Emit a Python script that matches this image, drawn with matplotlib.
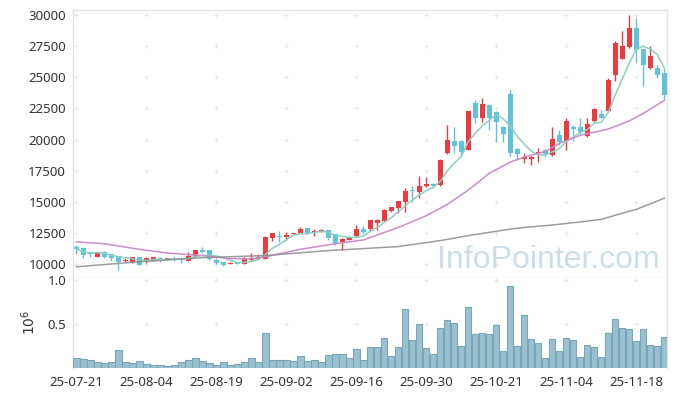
import numpy as np
import pandas as pd
import matplotlib
matplotlib.use('Agg')
import matplotlib.pyplot as plt

# daily prices, 85 trading days from 25-07-21
opens = [11400, 11320, 10880, 10620, 11010, 10800, 10670, 10270, 10160, 10560,
         10270, 10290, 10530, 10350, 10480, 10480, 10290, 10610, 11150, 11150,
         10345, 10180, 10060, 10180, 10030, 10350, 10450, 10450, 12130, 12250,
         12220, 12430, 12480, 12880, 12560, 12620, 12750, 12400, 11760, 11980,
         12270, 12800, 12800, 13340, 13500, 14260, 14550, 15030, 15960, 15770,
         16280, 16420, 16330, 18900, 19890, 19890, 19200, 22960, 21760, 22780,
         22250, 21040, 23660, 19250, 18460, 18410, 18900, 19170, 18770, 20380,
         19900, 21030, 21030, 20320, 21470, 22060, 22330, 25210, 26500, 27400,
         28960, 27280, 25750, 25750, 25350]
highs = [11550, 11350, 11000, 10980, 11050, 10820, 10700, 10480, 10600, 10600,
         10560, 10620, 10600, 10480, 10700, 10480, 10960, 11170, 11350, 11170,
         10480, 10200, 10150, 10200, 10560, 10900, 10800, 12250, 12500, 12700,
         12620, 12520, 12960, 12900, 12830, 12800, 12780, 12420, 12080, 12300,
         13140, 13050, 13560, 13600, 14450, 14600, 15100, 16100, 16280, 17060,
         16980, 16520, 18420, 21150, 20990, 19950, 22330, 23160, 23330, 22850,
         22300, 21100, 23980, 19300, 18960, 18650, 19310, 19250, 21000, 20800,
         21740, 21200, 21700, 21740, 22540, 22350, 24950, 27900, 28690, 30030,
         29760, 27300, 27490, 26020, 25750]
lows = [10850, 10470, 10550, 10600, 10480, 10265, 9540, 10210, 10120, 9950,
        10100, 10270, 10210, 10320, 10290, 10080, 10250, 10580, 10930, 10350,
        10050, 9870, 10030, 10000, 10000, 10300, 10400, 10430, 11900, 11820,
        11950, 12430, 12450, 12400, 12300, 12600, 11950, 11580, 11150, 11950,
        12220, 12400, 12700, 12750, 13360, 14220, 14120, 14160, 15030, 15290,
        16200, 16150, 16300, 18880, 18900, 18800, 19150, 21300, 21440, 20800,
        19840, 19850, 18700, 18380, 18100, 18000, 18230, 18640, 18700, 19570,
        19200, 19870, 20400, 20200, 21400, 21700, 22300, 24680, 26450, 27350,
        26150, 24280, 25700, 24950, 23200]
closes = [11250, 10720, 10800, 10950, 10610, 10530, 10160, 10370, 10560, 9980,
          10480, 10580, 10320, 10480, 10400, 10390, 10670, 11150, 10960, 10420,
          10130, 9960, 10100, 10040, 10530, 10530, 10610, 12190, 12480, 12150,
          12350, 12480, 12830, 12440, 12700, 12750, 12130, 11620, 12030, 12220,
          12800, 12620, 13530, 13550, 14360, 14580, 15080, 15880, 15880, 16310,
          16440, 16310, 18360, 19970, 19520, 19040, 22300, 21760, 22880, 21760,
          21440, 20430, 18900, 18820, 18610, 18610, 18980, 18830, 20050, 19840,
          21470, 20830, 20640, 21250, 22460, 21740, 24810, 27750, 27490, 28960,
          27220, 26020, 26690, 25210, 23610]
volumes = [104000, 92000, 81000, 58000, 46000, 58000, 196000, 58000, 46000, 69000,
           35000, 23000, 23000, 12000, 23000, 58000, 81000, 104000, 69000, 46000,
           23000, 58000, 23000, 35000, 58000, 104000, 58000, 392000, 81000, 81000,
           81000, 69000, 127000, 69000, 81000, 58000, 138000, 150000, 150000, 104000,
           208000, 85000, 231000, 231000, 335000, 127000, 231000, 669000, 312000, 496000,
           219000, 150000, 450000, 542000, 512000, 242000, 692000, 381000, 396000, 381000,
           485000, 185000, 935000, 242000, 600000, 323000, 277000, 104000, 323000, 185000,
           335000, 312000, 115000, 254000, 231000, 115000, 396000, 554000, 450000, 438000,
           300000, 438000, 254000, 242000, 346000]

# moving averages (index, value)
ma20_idx = [0, 4, 9, 13, 18, 22, 25, 27, 32, 37, 41, 46, 50, 53, 56, 59, 62, 64,
            67, 69, 72, 76, 79, 81, 84]
ma20_val = [11800, 11650, 11200, 10900, 10700, 10450, 10450, 10600, 11200, 11650,
            11950, 12950, 13900, 14800, 15950, 17300, 18200, 18600, 19050, 19700,
            20350, 20850, 21500, 22100, 23150]
ma60_idx = [0, 9, 18, 27, 36, 46, 52, 56, 60, 63, 68, 72, 75, 78, 80, 84]
ma60_val = [9800, 10200, 10530, 10700, 11100, 11420, 11900, 12300, 12650, 12900,
            13150, 13400, 13600, 14100, 14400, 15300]

tick_labels = ['25-07-21', '25-08-04', '25-08-19', '25-09-02', '25-09-16',
               '25-09-30', '25-10-21', '25-11-04', '25-11-18']

df = pd.DataFrame({'open': opens, 'high': highs, 'low': lows,
                   'close': closes, 'volume': volumes})
df['ma5'] = df['close'].rolling(5, min_periods=1).mean()
x = np.arange(len(df))
up = df['close'] >= df['open']

red = '#ee3a3f'
blue = '#62c1db'
grid_c = '#e6e6e6'
spine_c = '#e3e3e3'
text_c = '#333333'

plt.rcParams['font.family'] = ['Noto Sans', 'DejaVu Sans']

W, H = 677, 396
fig = plt.figure(figsize=(W / 100, H / 100), dpi=100)
ax = fig.add_axes([73 / W, 1 - 277.5 / H, (667 - 73) / W, (277.5 - 10) / H])
ax2 = fig.add_axes([73 / W, 1 - 367.5 / H, (667 - 73) / W, (367.5 - 277.5) / H], sharex=ax)

# candles
colors = np.where(up, red, blue)
ax.vlines(x, df['low'], df['high'], colors=colors, linewidth=1.0, zorder=3)
body_bottom = np.minimum(df['open'], df['close'])
body_h = np.maximum(np.abs(df['close'] - df['open']), 60)
ax.bar(x, body_h, bottom=body_bottom, width=0.68, color=colors, linewidth=0, zorder=4)

# moving averages
ax.plot(x, df['ma5'], color='#8dcfc2', linewidth=1.1, zorder=5)
ax.plot(ma20_idx, ma20_val, color='#c98ec8', linewidth=1.1, zorder=5)
ax.plot(ma60_idx, ma60_val, color='#8c8c8c', linewidth=1.1, alpha=0.85, zorder=5)

# volume
ax2.bar(x, df['volume'] / 1e6, width=0.92, color='#9bc0d0', edgecolor='#7aa6ba',
        linewidth=0.8, zorder=3)

xt = np.arange(0, len(df), 10)
yt = np.arange(10000, 30001, 2500)
ax.set_xlim(-0.47, 84.39)
ax.set_ylim(8940, 30400)
ax.set_yticks(yt)
ax.set_xticks(xt)
gx, gy = np.meshgrid(xt, yt)
ax.scatter(gx.ravel(), gy.ravel(), marker='+', s=9, color=grid_c, linewidth=0.7, zorder=1)

ax2.set_ylim(0, 1.029)
ax2.set_yticks([0.5, 1.0])
ax2.set_yticklabels(['0.5', '1.0'])
gx2, gy2 = np.meshgrid(xt, [0.5, 1.0])
ax2.scatter(gx2.ravel(), gy2.ravel(), marker='+', s=9, color=grid_c, linewidth=0.7, zorder=1)
ax2.set_xticks(xt)
ax2.set_xticklabels(tick_labels)

for a in (ax, ax2):
    for s in a.spines.values():
        s.set_color(spine_c)
        s.set_linewidth(1)
    a.tick_params(length=0, labelsize=9.5, labelcolor=text_c, pad=5)
ax2.spines['bottom'].set_visible(False)
ax2.spines['top'].set_visible(False)
ax.tick_params(axis='x', labelbottom=False)
ax2.tick_params(axis='x', pad=6)

fig.text(30 / W, 1 - 322 / H, r'$10^6$', rotation=90, ha='center', va='center',
         fontsize=10, color=text_c)

ax.text(660 / W, 1 - 268 / H, 'InfoPointer.com', transform=fig.transFigure,
        ha='right', va='baseline', fontsize=23, color='#c4d9e4', alpha=0.85,
        family='Liberation Sans', zorder=2)

fig.savefig('out.png', dpi=100)
